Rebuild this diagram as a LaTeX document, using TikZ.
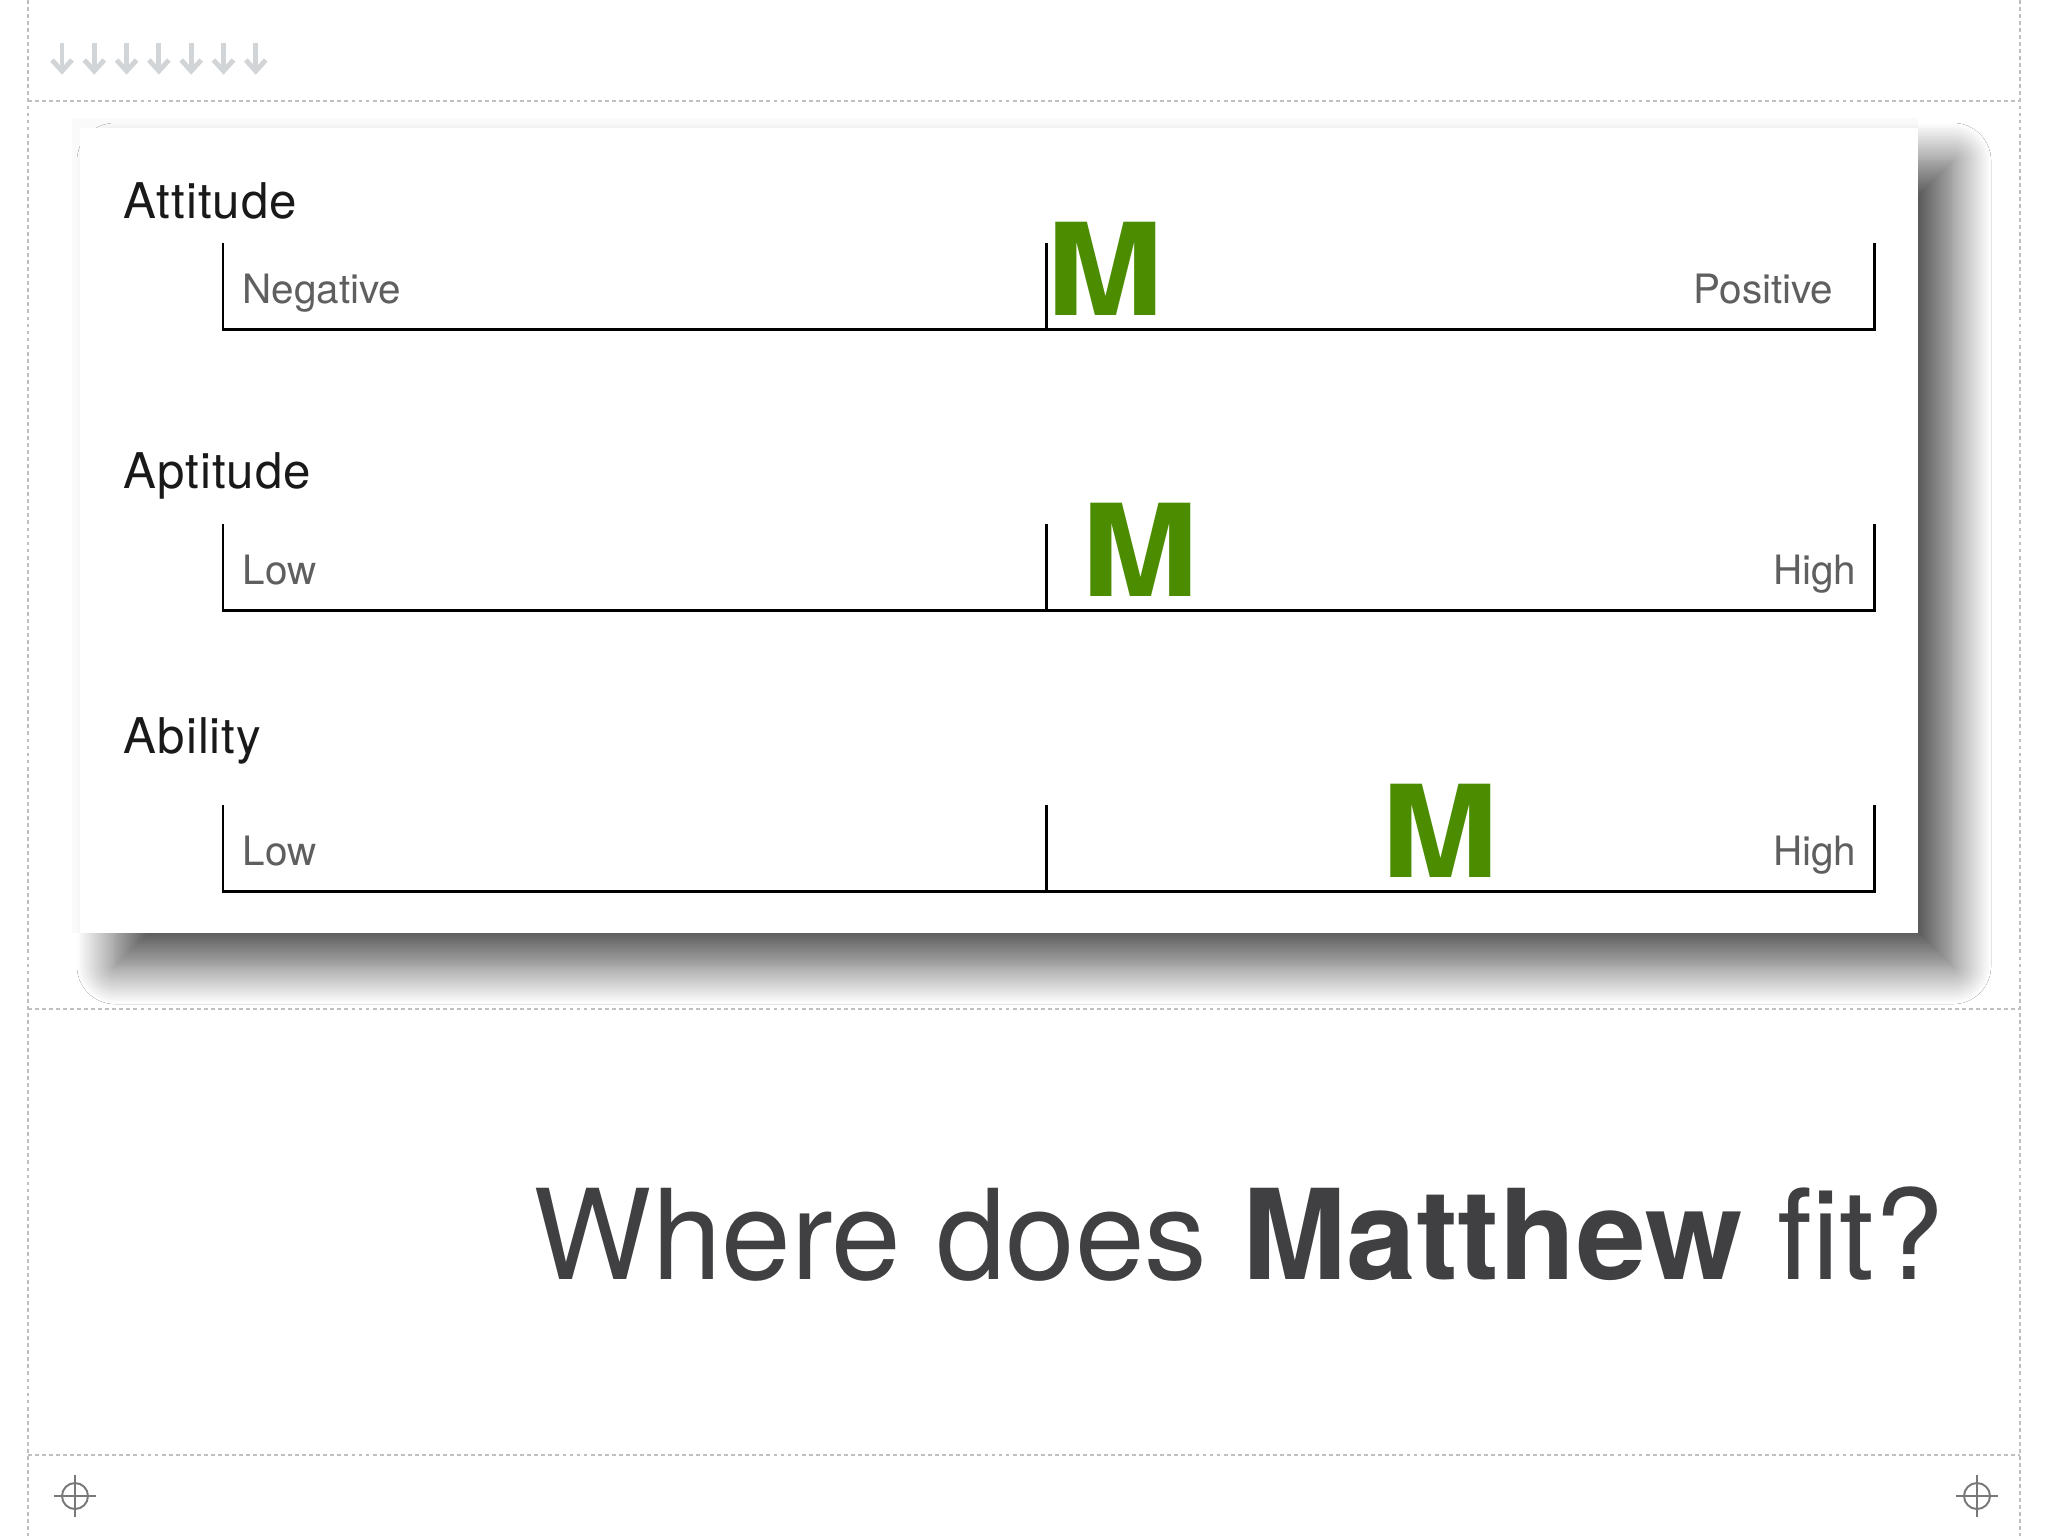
\documentclass[tikz,border=0pt]{standalone}
\usepackage{fontspec}
\setmainfont{TeX Gyre Heros}
\usepackage{graphicx}
\usetikzlibrary{shadows.blur}

\definecolor{mgruen}{RGB}{76,140,0}
\definecolor{titelgrau}{RGB}{64,63,66}
\definecolor{wortgrau}{RGB}{95,95,95}
\definecolor{pfeilgrau}{RGB}{210,213,216}
\definecolor{rahmengrau}{RGB}{192,192,192}
\definecolor{kreuzgrau}{RGB}{120,120,120}

\def\skala#1#2#3#4#5#6#7#8{
	\node[titel] (titel#1) at (123,#3) {#4};
	\draw[linie] (223,#2-86) -- (223,#2) -- (1874,#2) -- (1874,#2-86);
	\draw[linie] (1046,#2-86) -- (1046,#2);
	\node[wort,anchor=base west] (links#1) at (242,#2-26) {#5};
	\node[wort,anchor=base east] (rechts#1) at (#7,#2-26) {#6};
	\node[marke] (m#1) at (#8,#2-14) {\scalebox{1.1}[1]{M}};
}

\begin{document}
\begin{tikzpicture}[x=0.01cm,y=-0.01cm,
	titel/.style={inner sep=0,anchor=base west,text=black!90,font=\fontsize{14}{16}\selectfont\addfontfeatures{LetterSpace=2}},
	wort/.style={inner sep=0,text=wortgrau,font=\fontsize{11.5}{13}\selectfont},
	marke/.style={inner sep=0,anchor=base,text=mgruen,font=\fontsize{36.4}{40}\selectfont\bfseries},
	linie/.style={line width=0.85pt,line join=miter},
	rahmen/.style={rahmengrau,line width=0.35pt,dash pattern=on 1.1pt off 0.9pt},
	kreuz/.style={kreuzgrau,line width=0.55pt}]

\useasboundingbox (0,0) rectangle (2048,1536);
\fill[white] (0,0) rectangle (2048,1536);

\foreach \x in {28,2020}{
	\draw[rahmen] (\x,0) -- (\x,1536);
}
\foreach \y in {101,1009,1455}{
	\draw[rahmen] (28,\y) -- (2020,\y);
}

\foreach \i in {0,...,6}{
	\draw[pfeilgrau,line width=1.4pt] ({62+32.3*\i},43) -- ({62+32.3*\i},71);
	\draw[pfeilgrau,line width=1.4pt,line join=miter] ({52+32.3*\i},60) -- ({62+32.3*\i},71) -- ({72+32.3*\i},60);
}

\foreach \x in {75,1977}{
	\draw[kreuz] (\x,1496) circle (13);
	\draw[kreuz] (\x-21,1496) -- (\x+21,1496);
	\draw[kreuz] (\x,1475) -- (\x,1517);
}

\fill[black!2] (72,118) rectangle (1918,933);
\fill[white,blur shadow={shadow xshift=0.35cm,shadow yshift=-0.33cm,shadow blur radius=0.38cm,shadow blur steps=24,shadow opacity=68}]
	(80,128) rectangle (1918,933);

\skala{a}{329}{218}{Attitude}{Negative}{Positive}{1834}{1105}
\skala{b}{610}{488}{Aptitude}{Low}{High}{1857}{1140}
\skala{c}{891}{753}{Ability}{Low}{High}{1857}{1440}

\node[inner sep=0,anchor=base east,text=titelgrau,font=\fontsize{35.6}{40}\selectfont] (frage) at (1945,1279)
	{Where does \textbf{Matthew} fit?};

\end{tikzpicture}
\end{document}
